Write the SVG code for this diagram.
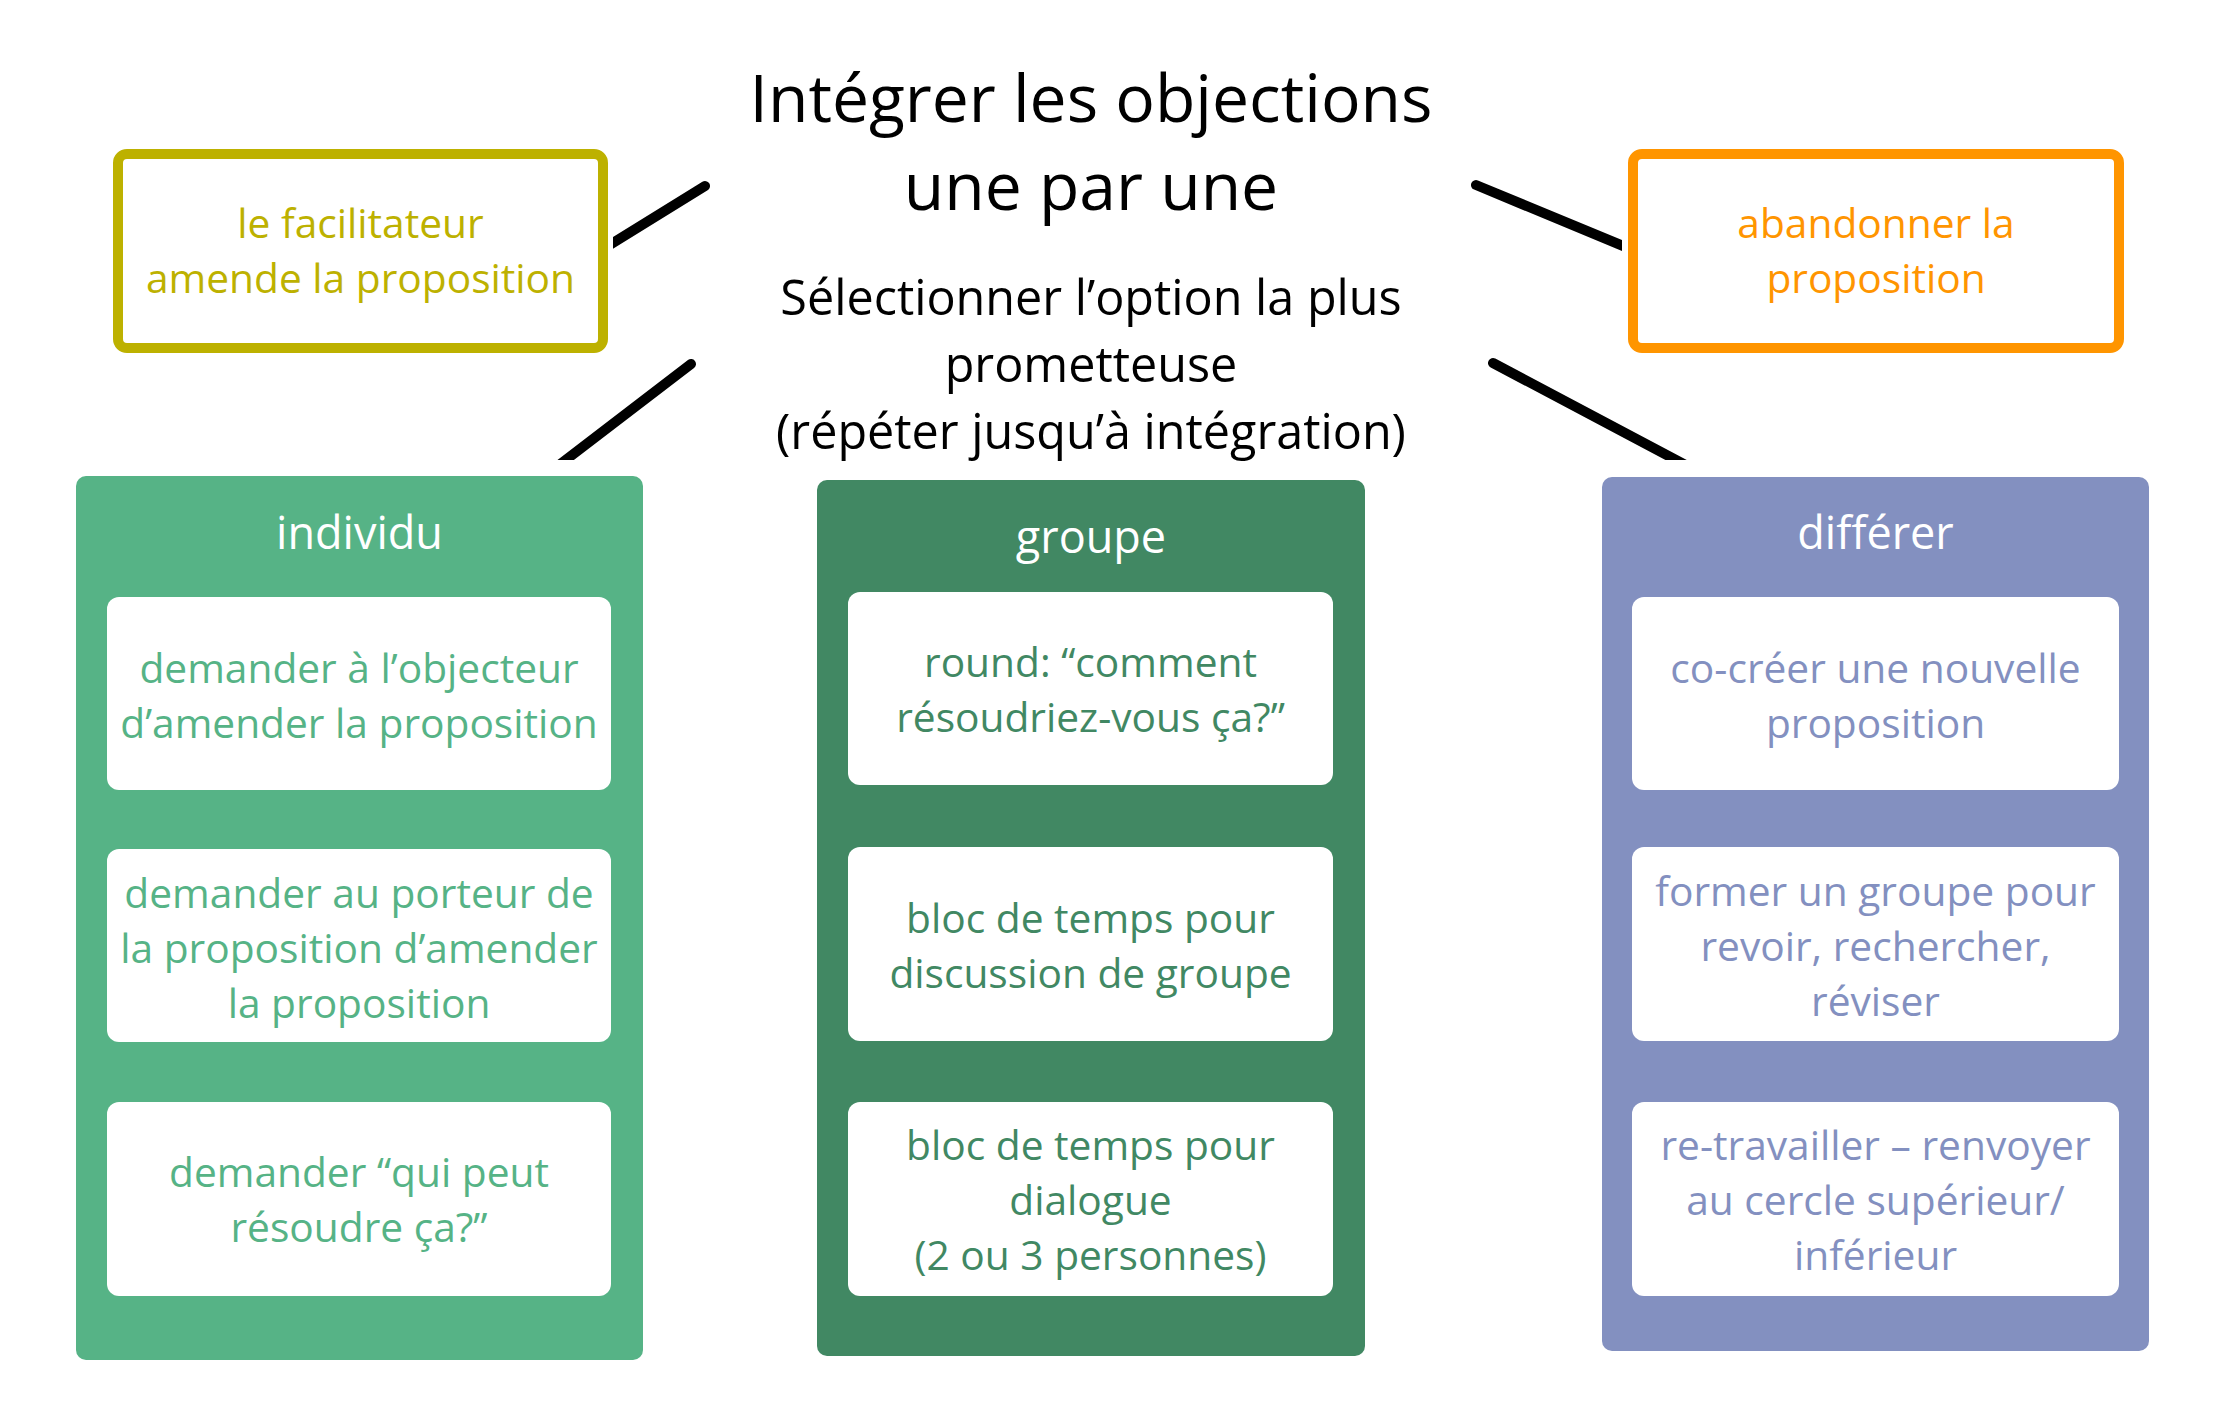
<svg xmlns="http://www.w3.org/2000/svg" width="2216" height="1419" viewBox="0 0 2216 1419">
<style>
text { font-family: "Open Sans", "Noto Sans", sans-serif; text-anchor: middle; }
.title { font-size: 66px; fill: #000; }
.sub { font-size: 48.5px; fill: #000; }
.head { font-size: 45px; fill: #fff; }
.card { fill: #fff; }
.t40 { font-size: 40.7px; }
.conn { stroke: #000; stroke-width: 10; stroke-linecap: round; fill: none; }
</style>
<defs>
<clipPath id="clipA"><rect x="613" y="0" width="1009" height="460"/></clipPath>
<clipPath id="clipB"><rect x="0" y="0" width="2216" height="460"/></clipPath>
</defs>
<rect width="2216" height="1419" fill="#fff"/>

<g id="connectors">
<line class="conn" x1="705" y1="186" x2="590" y2="257" clip-path="url(#clipA)"/>
<line class="conn" x1="691" y1="364" x2="550" y2="472" clip-path="url(#clipB)"/>
<line class="conn" x1="1476" y1="185" x2="1640" y2="253" clip-path="url(#clipA)"/>
<line class="conn" x1="1493" y1="363" x2="1695" y2="470" clip-path="url(#clipB)"/>
</g>

<g id="title">
<text class="title" x="1091" y="122">Intégrer les objections</text>
<text class="title" x="1091" y="210">une par une</text>
<text class="sub" x="1091" y="315">Sélectionner l’option la plus</text>
<text class="sub" x="1091" y="382">prometteuse</text>
<text class="sub" x="1091" y="449">(répéter jusqu’à intégration)</text>
</g>

<g id="facilitateur">
<rect x="118" y="154" width="485" height="194" rx="9" fill="#fff" stroke="#BDB100" stroke-width="10"/>
<text class="t40" x="360.5" y="238" fill="#BDB100">le facilitateur</text>
<text class="t40" x="360.5" y="293" fill="#BDB100">amende la proposition</text>
</g>

<g id="abandonner">
<rect x="1633" y="154" width="486" height="194" rx="9" fill="#fff" stroke="#FF9500" stroke-width="10"/>
<text class="t40" x="1876" y="238" fill="#FF9500">abandonner la</text>
<text class="t40" x="1876" y="293" fill="#FF9500">proposition</text>
</g>

<g id="individu">
<rect x="76" y="476" width="567" height="884" rx="10" fill="#56B386"/>
<text class="head" x="359.5" y="549">individu</text>
<rect class="card" x="107" y="597" width="504" height="193" rx="12"/>
<text class="t40" x="359" y="683" fill="#56B386">demander à l’objecteur</text>
<text class="t40" x="359" y="738" fill="#56B386">d’amender la proposition</text>
<rect class="card" x="107" y="849" width="504" height="193" rx="12"/>
<text class="t40" x="359" y="908" fill="#56B386">demander au porteur de</text>
<text class="t40" x="359" y="963" fill="#56B386">la proposition d’amender</text>
<text class="t40" x="359" y="1018" fill="#56B386">la proposition</text>
<rect class="card" x="107" y="1102" width="504" height="194" rx="12"/>
<text class="t40" x="359" y="1187" fill="#56B386">demander “qui peut</text>
<text class="t40" x="359" y="1242" fill="#56B386">résoudre ça?”</text>
</g>

<g id="groupe">
<rect x="817" y="480" width="548" height="876" rx="10" fill="#418863"/>
<text class="head" x="1091" y="553">groupe</text>
<rect class="card" x="848" y="592" width="485" height="193" rx="12"/>
<text class="t40" x="1090.5" y="677" fill="#418863">round: “comment</text>
<text class="t40" x="1090.5" y="732" fill="#418863">résoudriez-vous ça?”</text>
<rect class="card" x="848" y="847" width="485" height="194" rx="12"/>
<text class="t40" x="1090.5" y="933" fill="#418863">bloc de temps pour</text>
<text class="t40" x="1090.5" y="988" fill="#418863">discussion de groupe</text>
<rect class="card" x="848" y="1102" width="485" height="194" rx="12"/>
<text class="t40" x="1090.5" y="1160" fill="#418863">bloc de temps pour</text>
<text class="t40" x="1090.5" y="1215" fill="#418863">dialogue</text>
<text class="t40" x="1090.5" y="1270" fill="#418863">(2 ou 3 personnes)</text>
</g>

<g id="differer">
<rect x="1602" y="477" width="547" height="874" rx="10" fill="#8390C0"/>
<text class="head" x="1875.5" y="549">différer</text>
<rect class="card" x="1632" y="597" width="487" height="193" rx="12"/>
<text class="t40" x="1875.5" y="683" fill="#8390C0">co-créer une nouvelle</text>
<text class="t40" x="1875.5" y="738" fill="#8390C0">proposition</text>
<rect class="card" x="1632" y="847" width="487" height="194" rx="12"/>
<text class="t40" x="1875.5" y="906" fill="#8390C0">former un groupe pour</text>
<text class="t40" x="1875.5" y="961" fill="#8390C0">revoir, rechercher,</text>
<text class="t40" x="1875.5" y="1016" fill="#8390C0">réviser</text>
<rect class="card" x="1632" y="1102" width="487" height="194" rx="12"/>
<text class="t40" x="1875.5" y="1160" fill="#8390C0">re-travailler – renvoyer</text>
<text class="t40" x="1875.5" y="1215" fill="#8390C0">au cercle supérieur/</text>
<text class="t40" x="1875.5" y="1270" fill="#8390C0">inférieur</text>
</g>
</svg>
